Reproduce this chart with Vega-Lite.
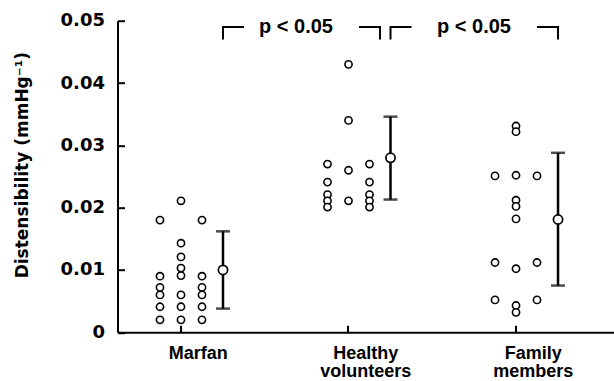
{
  "$schema": "https://vega.github.io/schema/vega-lite/v6.json",
  "autosize": "none",
  "width": 496.5,
  "height": 311.6,
  "padding": {"left": 117.5, "top": 20.7, "right": 0, "bottom": 48.7},
  "background": "white",
  "config": {"view": {"stroke": null}},
  "datasets": {
    "points": [
      {"g": "Marfan", "s": "s3", "v": 0.0180}, {"g": "Marfan", "s": "s3", "v": 0.0090}, {"g": "Marfan", "s": "s3", "v": 0.0072},
      {"g": "Marfan", "s": "s3", "v": 0.0060}, {"g": "Marfan", "s": "s3", "v": 0.0041}, {"g": "Marfan", "s": "s3", "v": 0.0020},
      {"g": "Marfan", "s": "s5", "v": 0.0211}, {"g": "Marfan", "s": "s5", "v": 0.0143}, {"g": "Marfan", "s": "s5", "v": 0.0121},
      {"g": "Marfan", "s": "s5", "v": 0.0103}, {"g": "Marfan", "s": "s5", "v": 0.0091}, {"g": "Marfan", "s": "s5", "v": 0.0060},
      {"g": "Marfan", "s": "s5", "v": 0.0041}, {"g": "Marfan", "s": "s5", "v": 0.0020},
      {"g": "Marfan", "s": "s7", "v": 0.0180}, {"g": "Marfan", "s": "s7", "v": 0.0090}, {"g": "Marfan", "s": "s7", "v": 0.0072},
      {"g": "Marfan", "s": "s7", "v": 0.0060}, {"g": "Marfan", "s": "s7", "v": 0.0041}, {"g": "Marfan", "s": "s7", "v": 0.0020},
      {"g": "Healthy volunteers", "s": "s3", "v": 0.0270}, {"g": "Healthy volunteers", "s": "s3", "v": 0.0241},
      {"g": "Healthy volunteers", "s": "s3", "v": 0.0221}, {"g": "Healthy volunteers", "s": "s3", "v": 0.0211},
      {"g": "Healthy volunteers", "s": "s3", "v": 0.0201},
      {"g": "Healthy volunteers", "s": "s5", "v": 0.0430}, {"g": "Healthy volunteers", "s": "s5", "v": 0.0340},
      {"g": "Healthy volunteers", "s": "s5", "v": 0.0260}, {"g": "Healthy volunteers", "s": "s5", "v": 0.0211},
      {"g": "Healthy volunteers", "s": "s7", "v": 0.0270}, {"g": "Healthy volunteers", "s": "s7", "v": 0.0241},
      {"g": "Healthy volunteers", "s": "s7", "v": 0.0221}, {"g": "Healthy volunteers", "s": "s7", "v": 0.0211},
      {"g": "Healthy volunteers", "s": "s7", "v": 0.0201},
      {"g": "Family members", "s": "s3", "v": 0.0251}, {"g": "Family members", "s": "s3", "v": 0.0112}, {"g": "Family members", "s": "s3", "v": 0.0052},
      {"g": "Family members", "s": "s5", "v": 0.0331}, {"g": "Family members", "s": "s5", "v": 0.0322}, {"g": "Family members", "s": "s5", "v": 0.0252},
      {"g": "Family members", "s": "s5", "v": 0.0212}, {"g": "Family members", "s": "s5", "v": 0.0202}, {"g": "Family members", "s": "s5", "v": 0.0182},
      {"g": "Family members", "s": "s5", "v": 0.0102}, {"g": "Family members", "s": "s5", "v": 0.0043}, {"g": "Family members", "s": "s5", "v": 0.0032},
      {"g": "Family members", "s": "s7", "v": 0.0251}, {"g": "Family members", "s": "s7", "v": 0.0112}, {"g": "Family members", "s": "s7", "v": 0.0052}
    ],
    "stats": [
      {"g": "Marfan", "s": "s9", "mean": 0.0100, "lo": 0.0038, "hi": 0.0162},
      {"g": "Healthy volunteers", "s": "s9", "mean": 0.0280, "lo": 0.0213, "hi": 0.0346},
      {"g": "Family members", "s": "s9", "mean": 0.0181, "lo": 0.0075, "hi": 0.0288}
    ],
    "brackets": [
      {"seg": "a", "o": 1, "g": "Marfan", "s": "s9", "v": 0.0470},
      {"seg": "a", "o": 2, "g": "Marfan", "s": "s9", "v": 0.0490},
      {"seg": "a", "o": 3, "g": "Marfan", "s": "s11", "v": 0.0490},
      {"seg": "b", "o": 1, "g": "Healthy volunteers", "s": "s6", "v": 0.0490},
      {"seg": "b", "o": 2, "g": "Healthy volunteers", "s": "s8", "v": 0.0490},
      {"seg": "b", "o": 3, "g": "Healthy volunteers", "s": "s8", "v": 0.0470},
      {"seg": "c", "o": 1, "g": "Healthy volunteers", "s": "s9", "v": 0.0470},
      {"seg": "c", "o": 2, "g": "Healthy volunteers", "s": "s9", "v": 0.0490},
      {"seg": "c", "o": 3, "g": "Healthy volunteers", "s": "s11", "v": 0.0490},
      {"seg": "d", "o": 1, "g": "Family members", "s": "s7", "v": 0.0490},
      {"seg": "d", "o": 2, "g": "Family members", "s": "s9", "v": 0.0490},
      {"seg": "d", "o": 3, "g": "Family members", "s": "s9", "v": 0.0470}
    ],
    "notes": [
      {"g": "Healthy volunteers", "s": "s0", "v": 0.0480, "label": "p < 0.05"},
      {"g": "Family members", "s": "s1", "v": 0.0480, "label": "p < 0.05"}
    ]
  },
  "encoding": {
    "x": {
      "field": "g", "type": "nominal", "sort": null,
      "scale": {"domain": ["Marfan", "Healthy volunteers", "Family members"], "paddingInner": 0.036, "paddingOuter": 0, "align": 0.5},
      "axis": {
        "title": null, "labelExpr": "split(datum.value, ' ')", "bandPosition": 0.393, "labelAngle": 0,
        "labelFont": "Liberation Sans", "labelFontWeight": "bold", "labelFontSize": 18, "labelLineHeight": 18,
        "labelColor": "black", "labelPadding": 19, "labelBaseline": "top",
        "tickSize": -7, "tickWidth": 2, "tickColor": "black", "domainColor": "black", "domainWidth": 2
      }
    },
    "xOffset": {
      "field": "s", "type": "nominal",
      "scale": {"domain": ["s0","s1","s2","s3","s4","s5","s6","s7","s8","s9","s10","s11","s12","s13"], "paddingInner": 0, "paddingOuter": 0.69, "align": 0.397}
    }
  },
  "layer": [
    {
      "data": {"name": "stats"},
      "mark": {"type": "rule", "color": "black", "strokeWidth": 2.5},
      "encoding": {
        "y": {
          "field": "lo", "type": "quantitative",
          "scale": {"domain": [0, 0.05], "nice": false, "zero": true},
          "axis": {
            "title": "Distensibility (mmHg⁻¹)", "values": [0, 0.01, 0.02, 0.03, 0.04, 0.05],
            "labelExpr": "datum.value == 0 ? '0' : format(datum.value, '.2f')",
            "labelFont": "DejaVu Sans", "labelFontWeight": "bold", "labelFontSize": 18, "labelColor": "black",
            "labelPadding": 20, "tickSize": -7, "tickWidth": 2, "tickColor": "black",
            "domainColor": "black", "domainWidth": 2, "grid": false,
            "titleFont": "DejaVu Sans", "titleFontWeight": "bold", "titleFontSize": 17, "titleColor": "black",
            "titleX": -86, "titleY": 144, "titleAngle": -90, "titleAlign": "center", "titleBaseline": "bottom"
          }
        },
        "y2": {"field": "hi"}
      }
    },
    {
      "data": {"name": "stats"},
      "mark": {"type": "tick", "color": "black", "size": 14, "thickness": 2.5, "orient": "horizontal"},
      "encoding": {"y": {"field": "lo", "type": "quantitative"}}
    },
    {
      "data": {"name": "stats"},
      "mark": {"type": "tick", "color": "black", "size": 14, "thickness": 2.5, "orient": "horizontal"},
      "encoding": {"y": {"field": "hi", "type": "quantitative"}}
    },
    {
      "data": {"name": "stats"},
      "mark": {"type": "point", "shape": "circle", "filled": true, "fill": "white", "stroke": "black", "strokeWidth": 1.7, "size": 85, "opacity": 1},
      "encoding": {"y": {"field": "mean", "type": "quantitative"}}
    },
    {
      "data": {"name": "points"},
      "mark": {"type": "point", "shape": "circle", "filled": true, "fill": "white", "stroke": "black", "strokeWidth": 1.6, "size": 52, "opacity": 1},
      "encoding": {"y": {"field": "v", "type": "quantitative"}}
    },
    {
      "data": {"name": "brackets"},
      "mark": {"type": "line", "color": "black", "strokeWidth": 2},
      "encoding": {
        "y": {"field": "v", "type": "quantitative"},
        "detail": {"field": "seg"},
        "order": {"field": "o"}
      }
    },
    {
      "data": {"name": "notes"},
      "mark": {"type": "text", "font": "Liberation Sans", "fontWeight": "bold", "fontSize": 20, "color": "black", "baseline": "alphabetic", "align": "center"},
      "encoding": {
        "y": {"field": "v", "type": "quantitative"},
        "text": {"field": "label"}
      }
    }
  ]
}
